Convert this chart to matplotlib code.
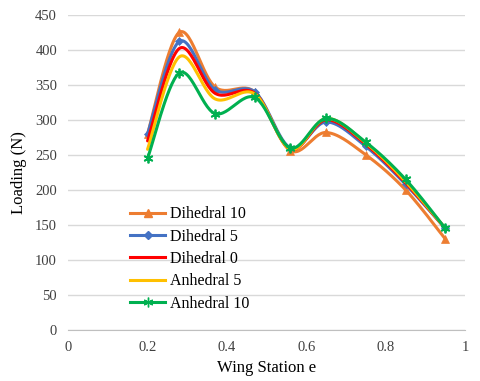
import numpy as np
import matplotlib
matplotlib.use("Agg")
import matplotlib.pyplot as plt

station = [0.2, 0.28, 0.37, 0.47, 0.56, 0.65, 0.75, 0.85, 0.95]
dihedral_10 = [280, 425, 347, 340, 256, 282, 250, 200, 130]
dihedral_5 = [280, 412, 343, 340, 260, 297, 262, 208, 145]
dihedral_0 = [270, 402, 338, 338, 258, 300, 265, 210, 145]
anhedral_5 = [258, 390, 330, 337, 258, 302, 267, 212, 145]
anhedral_10 = [245, 367, 309, 332, 260, 302, 268, 215, 145]

plt.rcParams['font.family'] = ['Liberation Serif', 'DejaVu Serif']


def smooth(x, y, n=30):
    # Excel-style smoothed line (Catmull-Rom through the points)
    p = np.column_stack([x, y]).astype(float)
    p = np.vstack([p[0], p, p[-1]])
    out = []
    t = np.linspace(0, 1, n)[:, None]
    for i in range(1, len(p) - 2):
        p0, p1, p2, p3 = p[i - 1], p[i], p[i + 1], p[i + 2]
        c1 = p1 + (p2 - p0) / 6
        c2 = p2 - (p3 - p1) / 6
        seg = ((1 - t) ** 3) * p1 + 3 * ((1 - t) ** 2) * t * c1 + 3 * (1 - t) * t ** 2 * c2 + t ** 3 * p2
        out.append(seg)
    s = np.vstack(out)
    return s[:, 0], s[:, 1]


fig = plt.figure(figsize=(4.8, 3.81), dpi=100)
ax = fig.add_axes([0.142, 0.134, 0.827, 0.827])

series = [
    ("Dihedral 10", dihedral_10, "#ED7D31", "^", 6),
    ("Dihedral 5", dihedral_5, "#4472C4", "D", 4.5),
    ("Dihedral 0", dihedral_0, "#FF0000", None, 0),
    ("Anhedral 5", anhedral_5, "#FFC000", None, 0),
    ("Anhedral 10", anhedral_10, "#00B050", (6, 2, 0), 7),
]
for name, vals, col, mk, ms in series:
    sx, sy = smooth(np.array(station) * 450, vals)
    ax.plot(sx / 450, sy, color=col, lw=2.2, solid_capstyle='round')
    ax.plot(station, vals, linestyle='none', marker=mk, color=col, ms=ms,
            markeredgewidth=1.3 if mk == (6, 2, 0) else 0.5)
    ax.plot([], [], color=col, lw=2.2, marker=mk, ms=ms, label=name)

ax.set_xlim(0, 1)
ax.set_ylim(0, 450)
ax.set_xticks([0, 0.2, 0.4, 0.6, 0.8, 1])
ax.set_xticklabels(["0", "0.2", "0.4", "0.6", "0.8", "1"])
ax.set_yticks(range(0, 451, 50))
ax.grid(axis='y', color='#D9D9D9', lw=1)
ax.set_axisbelow(True)
for s in ['top', 'right', 'left']:
    ax.spines[s].set_visible(False)
ax.spines['bottom'].set_color('#BFBFBF')
ax.tick_params(length=0, labelsize=10.5, colors='#404040', pad=8)
ax.set_xlabel("Wing Station e", fontsize=12, labelpad=4)
ax.set_ylabel("Loading (N)", fontsize=12, labelpad=6)

ax.legend(loc='lower left', bbox_to_anchor=(0.12, 0.012), frameon=False,
          fontsize=11.5, handlelength=2.2, labelspacing=0.4, handletextpad=0.3)

fig.savefig("out.png", dpi=100)
